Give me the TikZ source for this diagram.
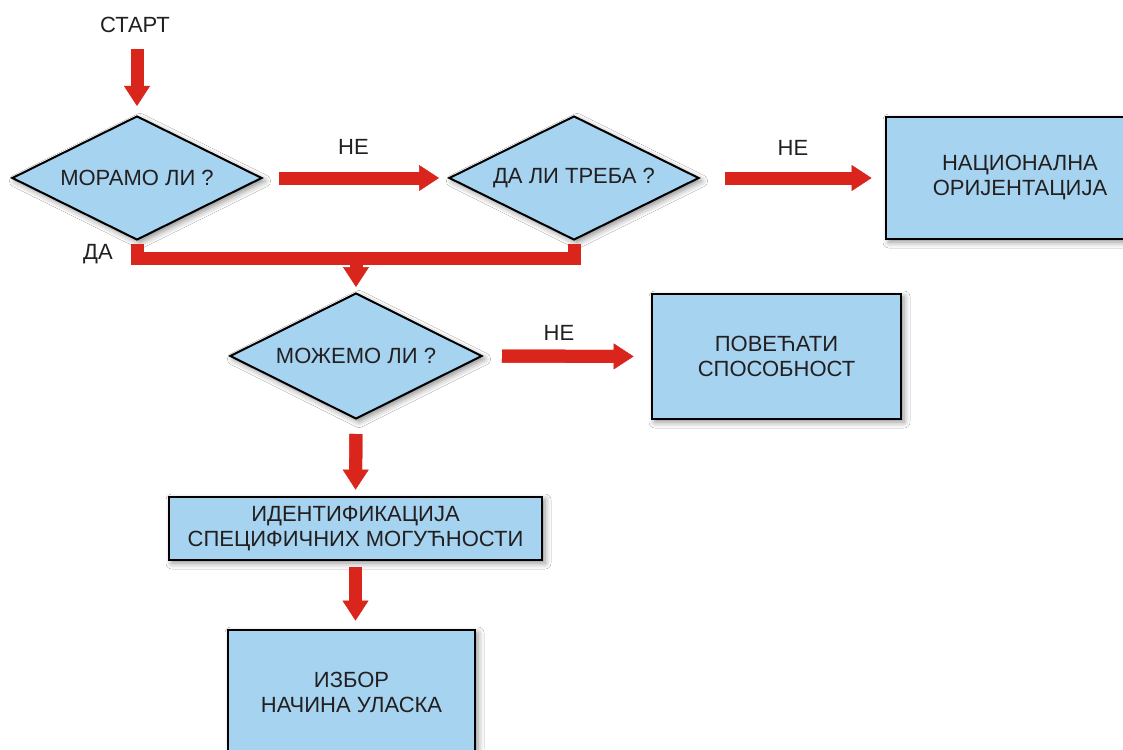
\documentclass[tikz,border=0pt]{standalone}
\usepackage{fontspec}
\setmainfont{Liberation Sans}
\usetikzlibrary{shapes.geometric,arrows.meta,shadows.blur,calc}
\definecolor{boxblue}{RGB}{166,212,240}
\definecolor{flowred}{RGB}{218,37,29}
\definecolor{ink}{RGB}{35,31,32}
\begin{document}
\begin{tikzpicture}[x=1pt,y=-1pt,
  every node/.style={font=\fontsize{22}{25}\selectfont, text=ink, align=center},
  softshadow/.style={blur shadow={shadow xshift=3pt, shadow yshift=-3pt,
      shadow blur radius=6pt, shadow opacity=45}},
  decision/.style={diamond, aspect=2, draw=black, line width=2pt, fill=boxblue,
      inner sep=0pt, minimum width=250pt, minimum height=124pt, softshadow},
  process/.style={rectangle, draw=black, line width=2.8pt, fill=boxblue,
      inner sep=0pt, softshadow},
  % fat red arrow: #1 = gap at the start, #2 = gap at the tip
  flow/.style 2 args={draw=flowred, line width=13pt, line cap=butt,
      shorten <=#1, shorten >=#2,
      preaction={draw=flowred, line width=13pt, line cap=butt, -,
                 shorten >=#2+14pt},
      -{Triangle[length=20pt,width=26pt,line width=0.5pt]}},
  bar/.style={draw=flowred, line width=13pt, line cap=butt, line join=miter}
]
\clip (0,0) rectangle (1123,749);
\fill[white] (0,0) rectangle (1123,749);

% decisions and process boxes
\node (start) at (135,25) {СТАРТ};
\node[decision] (d1) at (137,178) {МОРАМО ЛИ ?};
\node[decision] (d2) at (574,178) {ДА ЛИ ТРЕБА ?};
\node[process, minimum width=268pt, minimum height=122pt] (b1) at (1020,178)
  {НАЦИОНАЛНА\\ОРИЈЕНТАЦИЈА};
\node[decision, minimum width=252pt, minimum height=126pt] (d3) at (356,356)
  {МОЖЕМО ЛИ ?};
\node[process, minimum width=249pt, minimum height=125pt] (b2) at (776.5,356.5)
  {ПОВЕЋАТИ\\СПОСОБНОСТ};
\node[process, minimum width=373pt, minimum height=63pt] (b3) at (355.5,528.5)
  {ИДЕНТИФИКАЦИЈА\\СПЕЦИФИЧНИХ МОГУЋНОСТИ};
\node[process, minimum width=247pt, minimum height=124pt] (b4) at (351.5,692)
  {ИЗБОР\\НАЧИНА УЛАСКА};

% branch labels
\node (ne1) at (353.5,147) {НЕ};
\node (ne2) at (793,147.5) {НЕ};
\node (ne3) at (559,332.5) {НЕ};
\node (da) at (98,254) {ДА};

% connectors
\draw[flow={13pt}{9pt}] (d1.north |- start.south) -- (d1.north);
\draw[flow={16pt}{9pt}] (d1.east) -- (d2.west);
\draw[flow={25pt}{13pt}] (d2.east) -- (b1.west);

\coordinate (j) at (356,258);
\draw[bar] ($(d1.south)+(0,3)$) |- (j) -| ($(d2.south)+(0,3)$);
\draw[flow={0pt}{5pt}] (j) -- (d3.north);

\draw[flow={19pt}{17pt}] (d3.east) -- (b2.west);
\draw[flow={14pt}{6pt}] (d3.south) -- (b3.north);
\draw[flow={6pt}{8pt}] (b3.south) -- (b3.south |- b4.north);
\end{tikzpicture}
\end{document}
